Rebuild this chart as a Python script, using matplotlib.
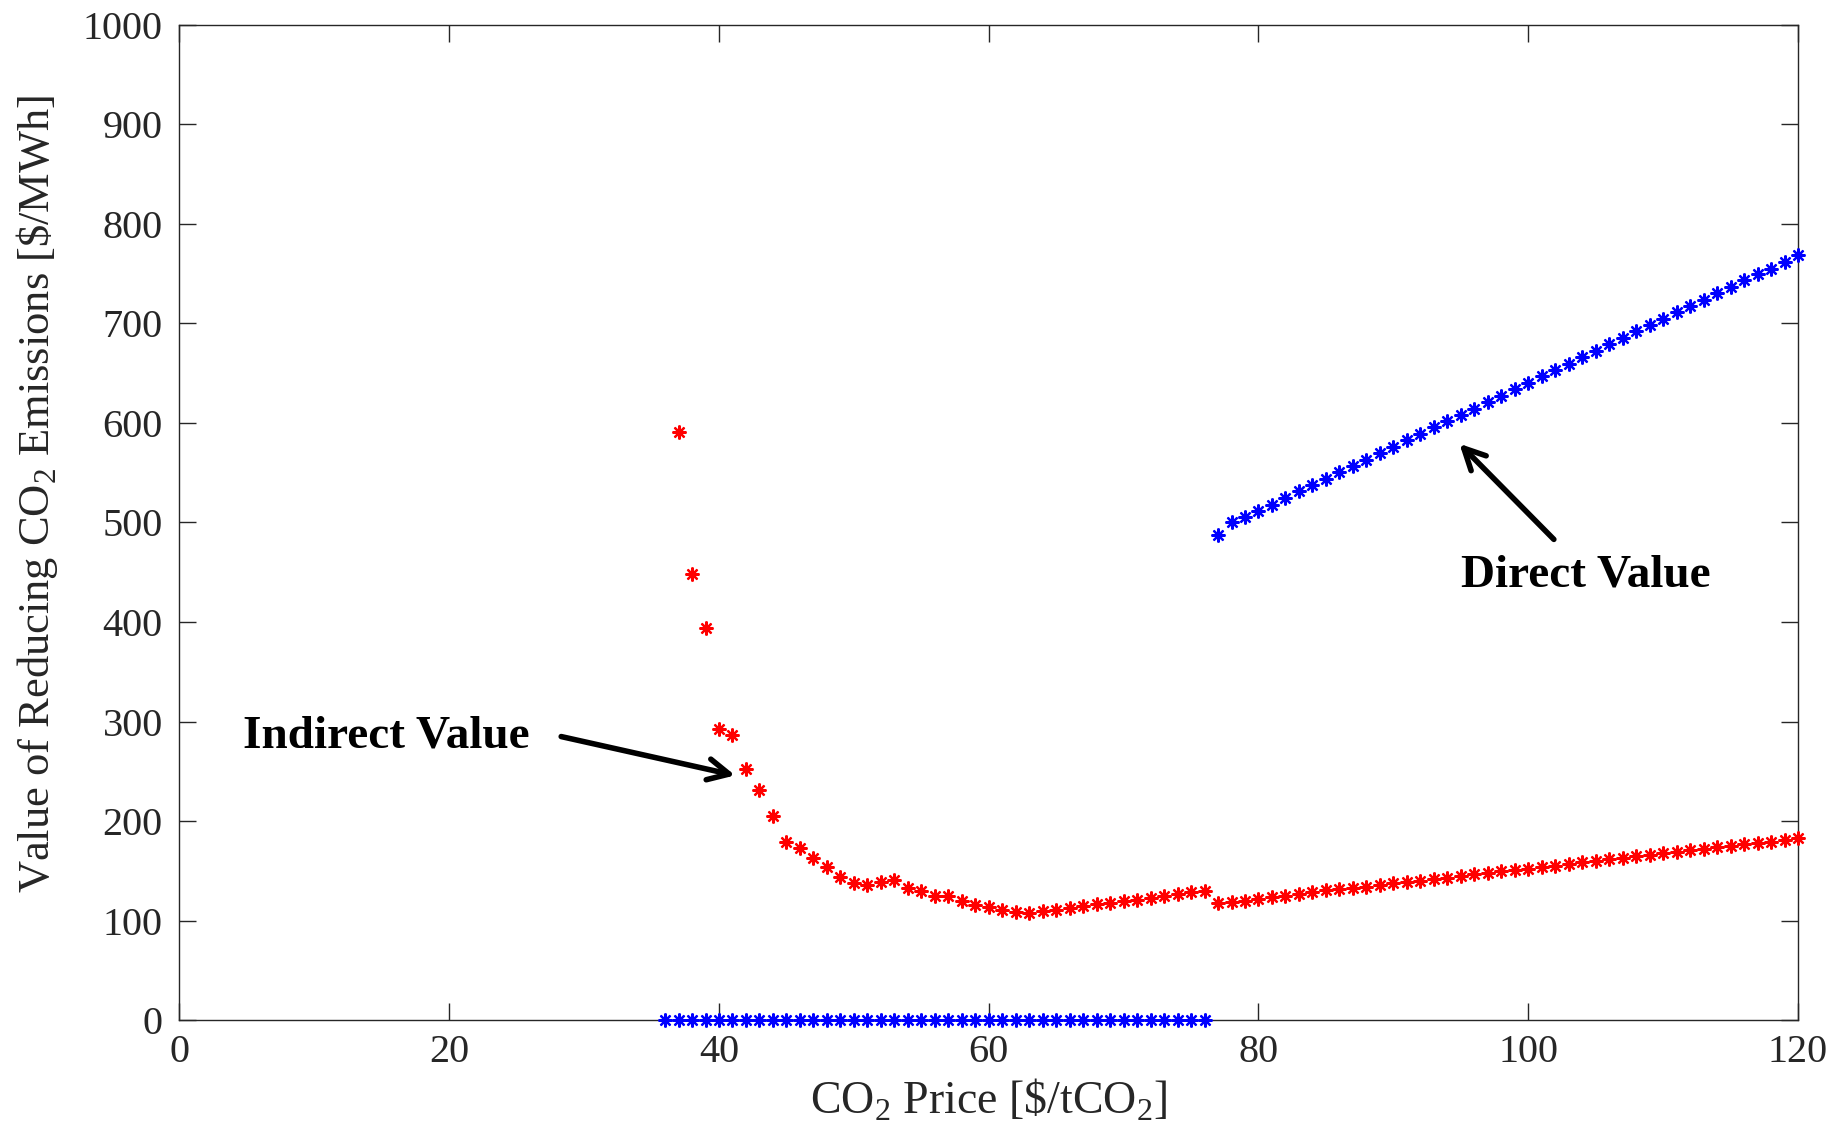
import numpy as np
import matplotlib
matplotlib.use('Agg')
import matplotlib.pyplot as plt

plt.rcParams['font.family'] = ['Liberation Serif', 'DejaVu Serif']
plt.rcParams['mathtext.fontset'] = 'custom'
plt.rcParams['mathtext.rm'] = 'Liberation Serif'

# indirect value (red), CO2 price 37..120 $/tCO2
indirect_x = list(range(37, 121))
indirect_y = [591, 448, 394, 293, 287, 252, 231, 205, 179, 173,
              163, 154, 144, 138, 136, 139, 141, 133, 130, 125,
              125, 120, 116, 114, 111, 109, 108, 110, 111, 113,
              115, 117, 118, 120, 121, 123, 125, 127, 129, 130,
              118, 119, 120, 122, 124, 125, 127, 129, 131, 132,
              133, 134, 136, 138, 139, 140, 142, 143, 145, 147,
              148, 150, 151, 152, 154, 155, 157, 159, 160, 162,
              163, 165, 166, 168, 169, 171, 172, 174, 175, 177,
              178, 179, 181, 183]

# direct value (blue), CO2 price 36..120 $/tCO2
direct_x = list(range(36, 121))
direct_y = [0] * 41 + [487, 500, 505, 512, 518, 525, 532, 538, 544, 551,
                       557, 563, 570, 576, 583, 589, 596, 602, 608, 614,
                       621, 627, 634, 640, 647, 653, 659, 666, 672, 679,
                       685, 692, 698, 704, 711, 717, 723, 730, 736, 743,
                       749, 755, 762, 769]

xticks = [0, 20, 40, 60, 80, 100, 120]
yticks = list(range(0, 1001, 100))

fig = plt.figure(figsize=(18.39, 11.47), dpi=100)
ax = fig.add_axes([0.0976, 0.1104, 0.8801, 0.8682])

star = (8, 2, 0)
ax.plot(indirect_x, indirect_y, linestyle='none', marker=star, color=(1, 0, 0),
        markersize=10, markeredgewidth=1.6, clip_on=False, zorder=3)
ax.plot(direct_x, direct_y, linestyle='none', marker=star, color=(0, 0, 1),
        markersize=10, markeredgewidth=1.6, clip_on=False, zorder=3)

ax.set_xlim(0, 120)
ax.set_ylim(0, 1000)
ax.set_xticks(xticks)
ax.set_yticks(yticks)

grey = (0.15, 0.15, 0.15)
for s in ax.spines.values():
    s.set_color(grey)
    s.set_linewidth(1.0)
ax.tick_params(direction='in', length=12, width=1.0, colors=grey,
               labelsize=29, top=True, right=True)
ax.tick_params(axis='x', pad=10)
ax.tick_params(axis='y', pad=12)

ax.set_xlabel(r'CO$_2$ Price [\$/tCO$_2$]', fontsize=33, color=grey, labelpad=4)
ax.set_ylabel(r'Value of Reducing CO$_2$ Emissions [\$/MWh]', fontsize=32,
              color=grey)
ax.yaxis.set_label_coords(-0.074, 0.529)

arrow = dict(arrowstyle='->', lw=4, color='black', mutation_scale=38,
             shrinkA=0, shrinkB=0)

ax.text(4.7, 285, 'Indirect Value', fontsize=34, fontweight='bold',
        va='center', ha='left')
ax.annotate('', xy=(41.2, 246), xytext=(28.3, 285), arrowprops=arrow)

ax.text(95.0, 447, 'Direct Value', fontsize=34, fontweight='bold',
        va='center', ha='left')
ax.annotate('', xy=(94.9, 579), xytext=(101.9, 483), arrowprops=arrow)

fig.savefig('out.png', dpi=100)
